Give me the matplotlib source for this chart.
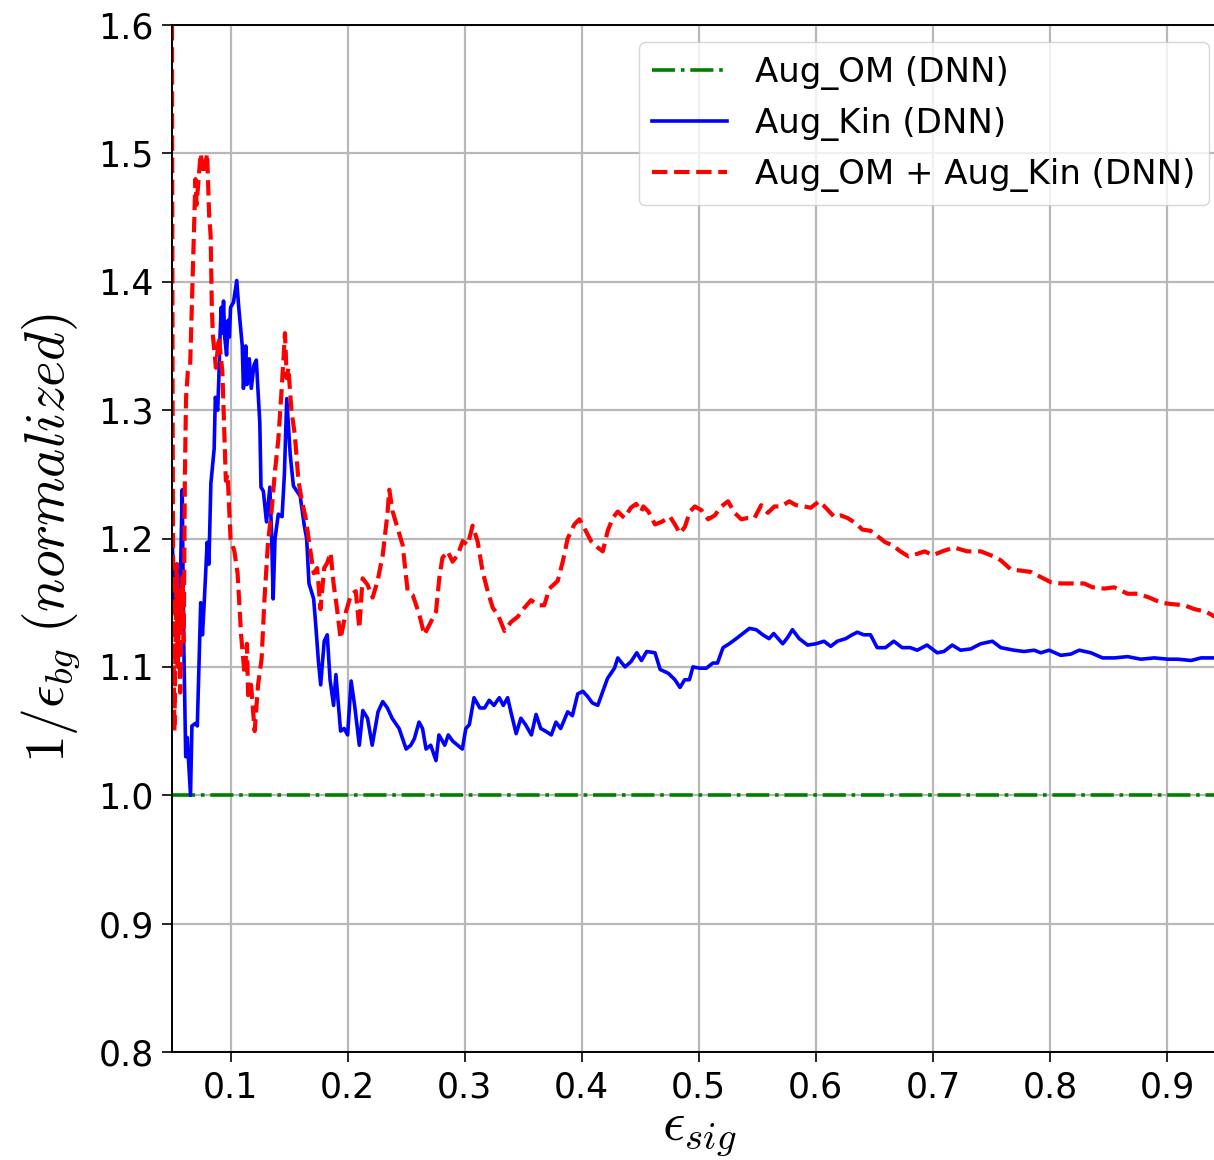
import numpy as np
import matplotlib
matplotlib.use("Agg")
import matplotlib.pyplot as plt

plt.rcParams["mathtext.fontset"] = "cm"

# signal efficiency points and normalized background rejection per model
kin_eff = [
    0.0500, 0.0515, 0.0530, 0.0545, 0.0560, 0.0572, 0.0587, 0.0600, 0.0617, 0.0630,
    0.0658, 0.0670, 0.0700, 0.0716, 0.0745, 0.0760, 0.0775, 0.0800, 0.0815, 0.0832,
    0.0860, 0.0870, 0.0890, 0.0900, 0.0910, 0.0920, 0.0930, 0.0940, 0.0950, 0.0966,
    0.0980, 0.0990, 0.1000, 0.1025, 0.1053, 0.1070, 0.1100, 0.1110, 0.1130, 0.1140,
    0.1160, 0.1177, 0.1200, 0.1220, 0.1250, 0.1260, 0.1280, 0.1307, 0.1336, 0.1350,
    0.1364, 0.1380, 0.1408, 0.1440, 0.1460, 0.1480, 0.1510, 0.1537, 0.1595, 0.1630,
    0.1650, 0.1670, 0.1710, 0.1730, 0.1750, 0.1770, 0.1800, 0.1826, 0.1850, 0.1880,
    0.1900, 0.1940, 0.1970, 0.2000, 0.2030, 0.2060, 0.2100, 0.2130, 0.2170, 0.2210,
    0.2260, 0.2300, 0.2340, 0.2380, 0.2440, 0.2500, 0.2540, 0.2570, 0.2610, 0.2640,
    0.2670, 0.2710, 0.2755, 0.2780, 0.2830, 0.2860, 0.2900, 0.2940, 0.2980, 0.3010,
    0.3040, 0.3080, 0.3130, 0.3170, 0.3210, 0.3250, 0.3296, 0.3330, 0.3367, 0.3400,
    0.3440, 0.3480, 0.3520, 0.3570, 0.3610, 0.3650, 0.3690, 0.3740, 0.3780, 0.3820,
    0.3880, 0.3920, 0.3966, 0.4010, 0.4050, 0.4090, 0.4137, 0.4180, 0.4220, 0.4280,
    0.4308, 0.4370, 0.4420, 0.4470, 0.4510, 0.4555, 0.4626, 0.4670, 0.4740, 0.4796,
    0.4839, 0.4880, 0.4920, 0.4950, 0.5009, 0.5065, 0.5120, 0.5160, 0.5207, 0.5260,
    0.5320, 0.5377, 0.5433, 0.5490, 0.5547, 0.5600, 0.5640, 0.5717, 0.5760, 0.5800,
    0.5858, 0.5930, 0.6000, 0.6070, 0.6127, 0.6184, 0.6255, 0.6310, 0.6354, 0.6410,
    0.6467, 0.6524, 0.6595, 0.6666, 0.6737, 0.6807, 0.6866, 0.6950, 0.7037, 0.7094,
    0.7165, 0.7237, 0.7323, 0.7408, 0.7508, 0.7580, 0.7693, 0.7779, 0.7865, 0.7922,
    0.7993, 0.8093, 0.8179, 0.8250, 0.8350, 0.8450, 0.8550, 0.8663, 0.8777, 0.8891,
    0.9006, 0.9091, 0.9205, 0.9291, 0.9410, 0.9500,
]
kin_rej = [
    1.200, 1.170, 1.140, 1.180, 1.130, 1.170, 1.238, 1.120, 1.030, 1.045,
    1.000, 1.054, 1.056, 1.054, 1.150, 1.125, 1.150, 1.197, 1.180, 1.243,
    1.270, 1.310, 1.300, 1.325, 1.357, 1.380, 1.360, 1.385, 1.357, 1.343,
    1.370, 1.357, 1.380, 1.384, 1.401, 1.380, 1.350, 1.317, 1.350, 1.320,
    1.340, 1.317, 1.335, 1.339, 1.290, 1.240, 1.237, 1.213, 1.240, 1.205,
    1.153, 1.200, 1.219, 1.217, 1.250, 1.309, 1.265, 1.241, 1.233, 1.210,
    1.200, 1.165, 1.153, 1.130, 1.105, 1.086, 1.120, 1.125, 1.090, 1.070,
    1.094, 1.050, 1.052, 1.047, 1.089, 1.070, 1.039, 1.066, 1.060, 1.039,
    1.065, 1.073, 1.068, 1.060, 1.052, 1.036, 1.039, 1.044, 1.057, 1.052,
    1.036, 1.039, 1.027, 1.047, 1.039, 1.047, 1.042, 1.039, 1.036, 1.052,
    1.055, 1.076, 1.068, 1.068, 1.074, 1.070, 1.076, 1.070, 1.076, 1.063,
    1.048, 1.060, 1.055, 1.047, 1.063, 1.052, 1.050, 1.047, 1.057, 1.052,
    1.065, 1.062, 1.079, 1.081, 1.077, 1.072, 1.070, 1.081, 1.091, 1.099,
    1.107, 1.100, 1.104, 1.111, 1.105, 1.112, 1.111, 1.098, 1.095, 1.090,
    1.084, 1.090, 1.090, 1.100, 1.099, 1.099, 1.103, 1.103, 1.115, 1.118,
    1.122, 1.126, 1.130, 1.129, 1.125, 1.122, 1.126, 1.118, 1.123, 1.129,
    1.122, 1.117, 1.118, 1.120, 1.116, 1.120, 1.122, 1.125, 1.127, 1.125,
    1.125, 1.115, 1.115, 1.120, 1.115, 1.115, 1.113, 1.117, 1.111, 1.112,
    1.117, 1.113, 1.114, 1.118, 1.120, 1.115, 1.113, 1.112, 1.113, 1.111,
    1.113, 1.109, 1.110, 1.113, 1.111, 1.107, 1.107, 1.108, 1.106, 1.107,
    1.106, 1.106, 1.105, 1.107, 1.107, 1.106,
]

both_eff = [
    0.0500, 0.0505, 0.0510, 0.0520, 0.0530, 0.0540, 0.0550, 0.0560, 0.0570, 0.0580,
    0.0590, 0.0600, 0.0610, 0.0620, 0.0635, 0.0655, 0.0670, 0.0690, 0.0700, 0.0710,
    0.0730, 0.0745, 0.0770, 0.0800, 0.0817, 0.0830, 0.0840, 0.0850, 0.0875, 0.0900,
    0.0930, 0.0960, 0.0975, 0.1000, 0.1033, 0.1060, 0.1090, 0.1120, 0.1140, 0.1150,
    0.1175, 0.1206, 0.1235, 0.1265, 0.1290, 0.1320, 0.1350, 0.1380, 0.1408, 0.1437,
    0.1465, 0.1480, 0.1494, 0.1520, 0.1550, 0.1580, 0.1610, 0.1640, 0.1667, 0.1690,
    0.1710, 0.1740, 0.1768, 0.1800, 0.1826, 0.1855, 0.1880, 0.1910, 0.1940, 0.1986,
    0.2028, 0.2070, 0.2100, 0.2128, 0.2170, 0.2214, 0.2256, 0.2300, 0.2340, 0.2356,
    0.2385, 0.2427, 0.2470, 0.2513, 0.2556, 0.2612, 0.2655, 0.2700, 0.2755, 0.2783,
    0.2810, 0.2855, 0.2897, 0.2940, 0.2983, 0.3026, 0.3068, 0.3110, 0.3154, 0.3197,
    0.3240, 0.3282, 0.3340, 0.3396, 0.3453, 0.3510, 0.3567, 0.3624, 0.3680, 0.3724,
    0.3795, 0.3838, 0.3880, 0.3937, 0.3980, 0.4023, 0.4080, 0.4137, 0.4180, 0.4222,
    0.4265, 0.4308, 0.4365, 0.4420, 0.4465, 0.4507, 0.4527, 0.4570, 0.4626, 0.4683,
    0.4754, 0.4796, 0.4839, 0.4881, 0.4924, 0.4966, 0.5023, 0.5080, 0.5136, 0.5193,
    0.5250, 0.5306, 0.5363, 0.5420, 0.5476, 0.5533, 0.5590, 0.5646, 0.5703, 0.5773,
    0.5830, 0.5900, 0.5957, 0.6028, 0.6085, 0.6156, 0.6213, 0.6270, 0.6340, 0.6397,
    0.6467, 0.6524, 0.6595, 0.6652, 0.6722, 0.6793, 0.6864, 0.6930, 0.7000, 0.7080,
    0.7180, 0.7294, 0.7408, 0.7522, 0.7580, 0.7665, 0.7750, 0.7836, 0.7922, 0.8007,
    0.8093, 0.8207, 0.8292, 0.8364, 0.8464, 0.8550, 0.8663, 0.8749, 0.8849, 0.8948,
    0.9034, 0.9148, 0.9234, 0.9334, 0.9410, 0.9500,
]
both_rej = [
    1.600, 1.300, 1.150, 1.050, 1.120, 1.180, 1.100, 1.160, 1.080, 1.140,
    1.170, 1.120, 1.250, 1.310, 1.330, 1.335, 1.384, 1.450, 1.480, 1.460,
    1.484, 1.500, 1.484, 1.500, 1.452, 1.436, 1.380, 1.357, 1.333, 1.357,
    1.330, 1.245, 1.250, 1.200, 1.190, 1.173, 1.125, 1.094, 1.118, 1.078,
    1.086, 1.050, 1.086, 1.106, 1.153, 1.197, 1.221, 1.253, 1.277, 1.317,
    1.360, 1.325, 1.333, 1.300, 1.280, 1.245, 1.229, 1.217, 1.200, 1.185,
    1.173, 1.177, 1.145, 1.177, 1.181, 1.189, 1.165, 1.145, 1.122, 1.143,
    1.156, 1.159, 1.130, 1.169, 1.164, 1.154, 1.167, 1.187, 1.219, 1.238,
    1.221, 1.208, 1.195, 1.159, 1.156, 1.141, 1.125, 1.133, 1.143, 1.169,
    1.185, 1.190, 1.182, 1.187, 1.198, 1.195, 1.210, 1.198, 1.174, 1.159,
    1.146, 1.141, 1.128, 1.135, 1.139, 1.146, 1.152, 1.148, 1.148, 1.161,
    1.167, 1.182, 1.200, 1.211, 1.215, 1.208, 1.198, 1.193, 1.190, 1.206,
    1.216, 1.221, 1.216, 1.224, 1.227, 1.221, 1.225, 1.221, 1.211, 1.213,
    1.217, 1.211, 1.204, 1.209, 1.221, 1.225, 1.222, 1.215, 1.218, 1.225,
    1.229, 1.220, 1.215, 1.216, 1.216, 1.226, 1.220, 1.225, 1.225, 1.229,
    1.226, 1.225, 1.224, 1.229, 1.224, 1.217, 1.218, 1.216, 1.212, 1.207,
    1.206, 1.202, 1.197, 1.195, 1.190, 1.186, 1.188, 1.190, 1.187, 1.190,
    1.193, 1.190, 1.190, 1.186, 1.183, 1.176, 1.175, 1.174, 1.170, 1.166,
    1.165, 1.165, 1.165, 1.162, 1.161, 1.162, 1.157, 1.157, 1.154, 1.150,
    1.149, 1.148, 1.145, 1.143, 1.139, 1.137,
]

om_eff = [0.05, 0.95]
om_rej = [1.0, 1.0]

x_ticks = [0.1, 0.2, 0.3, 0.4, 0.5, 0.6, 0.7, 0.8, 0.9]
y_ticks = [0.8, 0.9, 1.0, 1.1, 1.2, 1.3, 1.4, 1.5, 1.6]

fig = plt.figure(figsize=(12.14, 11.6), dpi=100)
# axes run slightly past the right edge of the canvas
ax = fig.add_axes([0.1417, 0.0931, 0.8678, 0.8853])

ax.plot(om_eff, om_rej, color="green", linestyle="-.", lw=2.6, label="Aug_OM (DNN)")
ax.plot(kin_eff, kin_rej, color="blue", linestyle="-", lw=2.6, label="Aug_Kin (DNN)")
ax.plot(both_eff, both_rej, color="red", linestyle="--", lw=3.0,
        label="Aug_OM + Aug_Kin (DNN)")

ax.set_xlim(0.05, 0.95)
ax.set_ylim(0.8, 1.6)
ax.set_xticks(x_ticks)
ax.set_yticks(y_ticks)
ax.set_xticklabels([f"{v:.1f}" for v in x_ticks])
ax.set_yticklabels([f"{v:.1f}" for v in y_ticks])
ax.tick_params(labelsize=25, length=7, width=1.2, pad=6)
ax.grid(True, color="#b8b8b8", lw=1.6)
for side in ("left", "bottom", "top"):
    ax.spines[side].set_linewidth(1.4)

ax.set_xlabel(r"$\epsilon_{sig}$", fontsize=40, labelpad=0)
ax.set_ylabel(r"$1/\epsilon_{bg}\;(normalized)$", fontsize=40, labelpad=12)

ax.legend(loc="upper right", fontsize=24.5, framealpha=0.8, handlelength=2.2,
          borderaxespad=0.5)

fig.savefig("out.png", dpi=100)
